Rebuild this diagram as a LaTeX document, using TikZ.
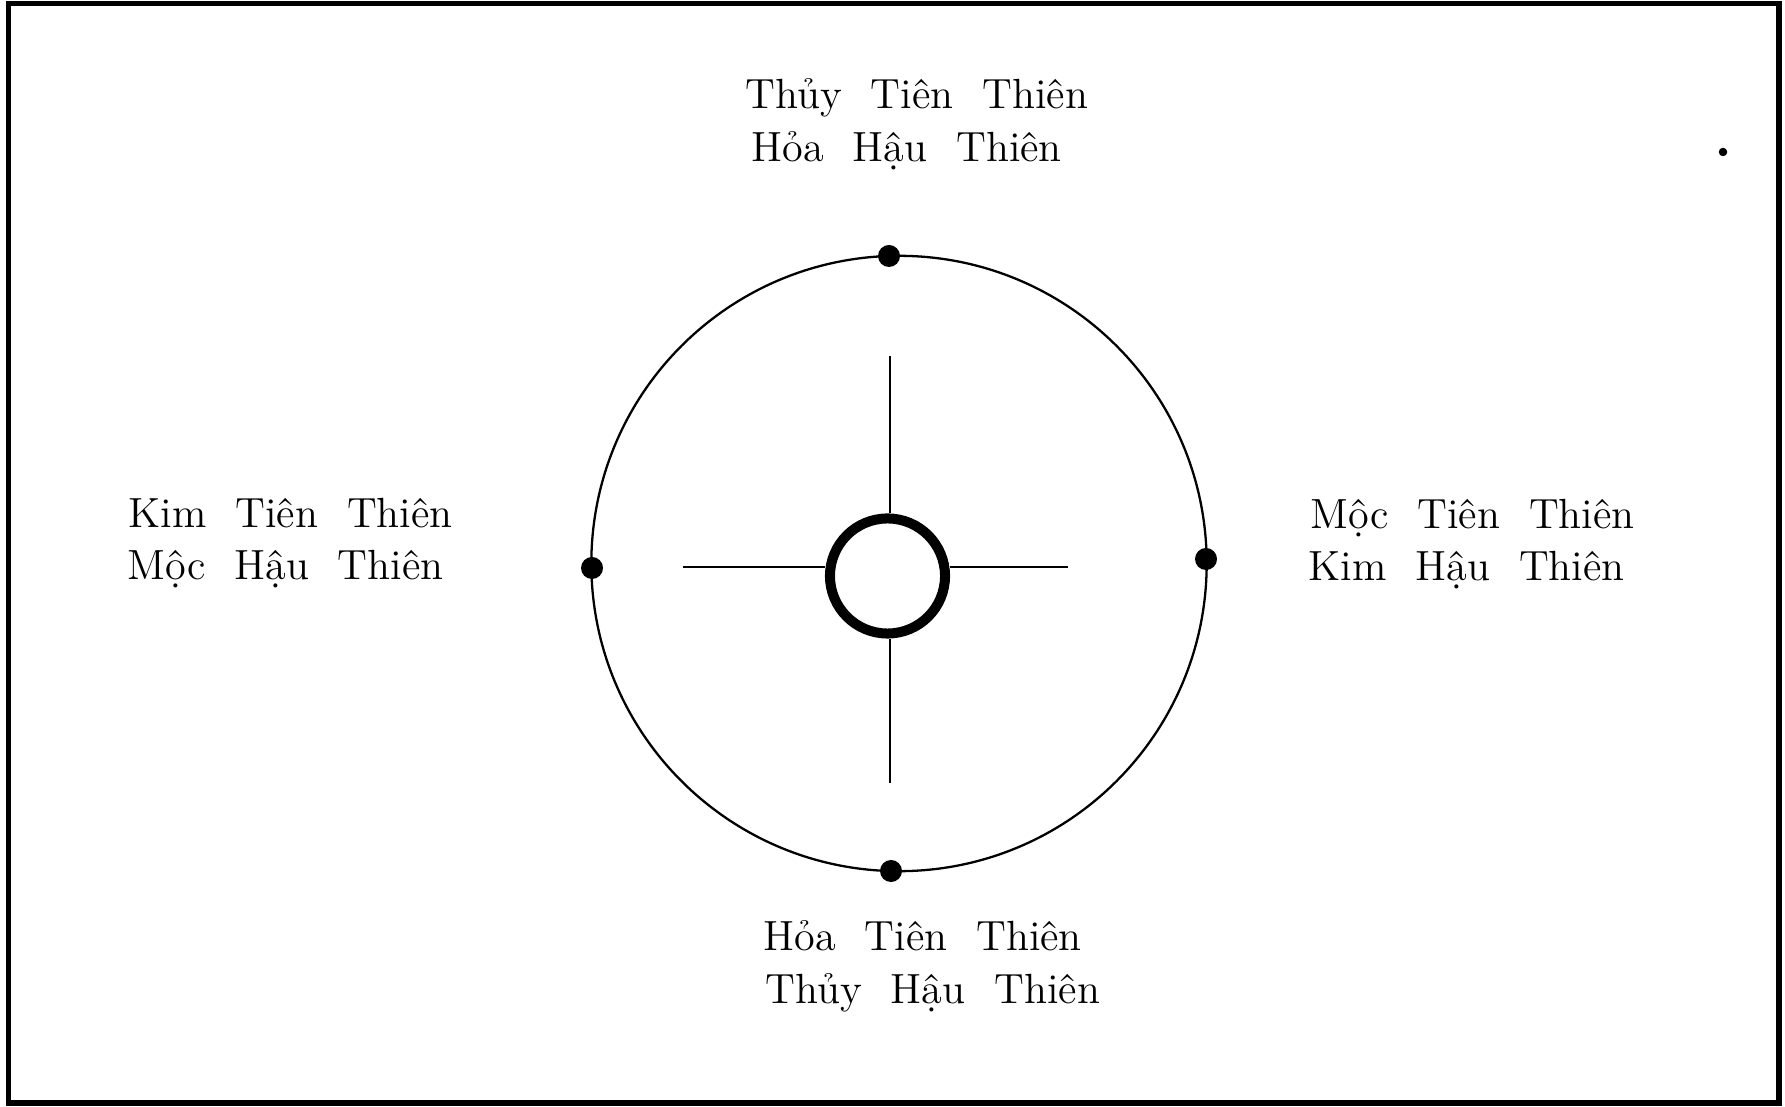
\documentclass[tikz,border=0pt]{standalone}
\usepackage{fontspec}
\newcommand\lblfont{\fontsize{12}{14}\selectfont\spaceskip=8.2pt\relax}
\begin{document}
\begin{tikzpicture}[x=0.01cm,y=-0.01cm,
  lbl/.style={anchor=base west,inner sep=0pt,font=\lblfont},
  bigdot/.style={circle,fill=black,inner sep=0pt,minimum size=0.22cm},
  frame/.style={line width=1.45pt},
  axis/.style={line width=0.7pt},
  ring/.style={line width=0.65pt}]
\useasboundingbox (0,0) rectangle (1785,1107);
\draw[frame] (8.5,3.5) rectangle (1779,1103);
% outer circle
\coordinate (c) at (899,563.5);
\draw[ring] (c) circle[radius=3.075cm];
% dots on the circle
\node[bigdot] (dtop) at (889,256) {};
\node[bigdot] (dbot) at (891,871) {};
\node[bigdot] (dleft) at (592,568) {};
\node[bigdot] (dright) at (1206,559) {};
\node[circle,fill=black,inner sep=0pt,minimum size=0.085cm] (speck) at (1723,152) {};
% hub
\node[circle,draw,line width=2.85pt,inner sep=0pt,minimum size=1.15cm] (hub) at (887.5,576) {};
\coordinate (vt) at (890,356);
\coordinate (vb) at (890,783);
\coordinate (hl) at (683,567);
\coordinate (hr) at (1068,567);
\draw[axis] (vt) -- (vt |- hub.north);
\draw[axis] (vb) -- (vb |- hub.south);
\draw[axis] (hl) -- (hub.west |- hl);
\draw[axis] (hr) -- (hub.east |- hr);
% labels
\node[lbl] (t1) at (745,109) {Thủy Tiên Thiên};
\node[lbl] (t2) at (751,162) {Hỏa Hậu Thiên};
\node[lbl] (l1) at (128,528) {Kim Tiên Thiên};
\node[lbl] (l2) at (127,580) {Mộc Hậu Thiên};
\node[lbl] (r1) at (1310,529) {Mộc Tiên Thiên};
\node[lbl] (r2) at (1308,581) {Kim Hậu Thiên};
\node[lbl] (b1) at (763,951) {Hỏa Tiên Thiên};
\node[lbl] (b2) at (765,1003) {Thủy Hậu Thiên};
\end{tikzpicture}
\end{document}
